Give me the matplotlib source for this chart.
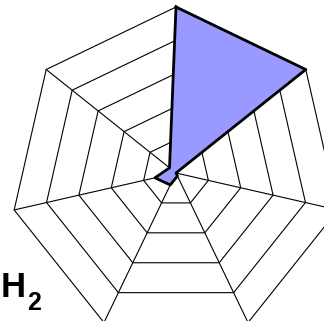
import numpy as np
import matplotlib
matplotlib.use("Agg")
import matplotlib.pyplot as plt

# Data
n_axes = 7
values = [1.0, 1.0, 0.0, 0.02, 0.08, 0.13, 0.05]
ring_levels = [0.2, 0.4, 0.6, 0.8, 1.0]
label_main = "H"
label_sub = "2"

W, H = 324, 321
fig = plt.figure(figsize=(W / 100, H / 100), dpi=100)

cx, cy, R = 176, 173, 166
ax = fig.add_axes([(cx - R) / W, (H - cy - R) / H, 2 * R / W, 2 * R / H], projection="polar")
ax.set_theta_zero_location("N")
ax.set_theta_direction(-1)
ax.set_ylim(0, 1)
ax.grid(False)
ax.spines["polar"].set_visible(False)
ax.set_xticks([])
ax.set_yticks([])
ax.patch.set_alpha(0)

angles = np.linspace(0, 2 * np.pi, n_axes, endpoint=False)
closed_angles = np.concatenate([angles, angles[:1]])

for lvl in ring_levels:
    ax.plot(closed_angles, [lvl] * (n_axes + 1), color="black", lw=0.8, zorder=1, clip_on=False)
for a in angles:
    ax.plot([a, a], [0, 1], color="black", lw=0.8, zorder=1, clip_on=False)

vals = np.array(values + values[:1])
ax.fill(closed_angles, vals, color="#9999FF", zorder=2, clip_on=False)
ax.plot(closed_angles, vals, color="black", lw=2.0, solid_joinstyle="round", zorder=3, clip_on=False)

fig.text(0.5 / W, (H - 297) / H, label_main, fontsize=25, fontweight="bold",
         family="Liberation Sans", va="baseline", ha="left")
fig.text(27 / W, (H - 310) / H, label_sub, fontsize=18, fontweight="bold",
         family="Liberation Sans", va="baseline", ha="left")

fig.savefig("out.png", dpi=100)
